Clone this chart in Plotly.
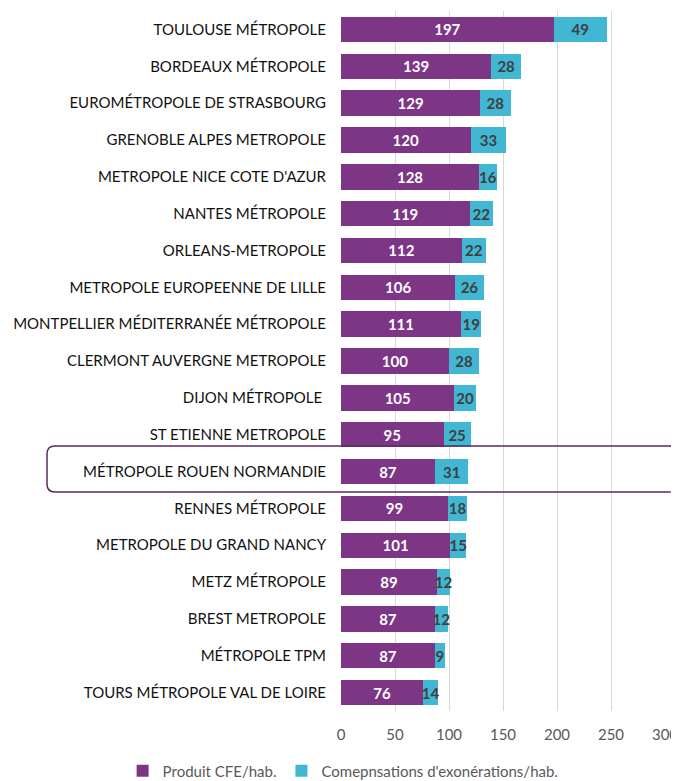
import plotly.graph_objects as go

categories = [
    "TOULOUSE MÉTROPOLE", "BORDEAUX MÉTROPOLE", "EUROMÉTROPOLE DE STRASBOURG",
    "GRENOBLE ALPES METROPOLE", "METROPOLE NICE COTE D'AZUR", "NANTES MÉTROPOLE",
    "ORLEANS-METROPOLE", "METROPOLE EUROPEENNE DE LILLE",
    "MONTPELLIER MÉDITERRANÉE MÉTROPOLE", "CLERMONT AUVERGNE METROPOLE",
    "DIJON MÉTROPOLE ", "ST ETIENNE METROPOLE", "MÉTROPOLE ROUEN NORMANDIE",
    "RENNES MÉTROPOLE", "METROPOLE DU GRAND NANCY", "METZ MÉTROPOLE",
    "BREST METROPOLE", "MÉTROPOLE TPM", "TOURS MÉTROPOLE VAL DE LOIRE",
]
produit_cfe = [197, 139, 129, 120, 128, 119, 112, 106, 111, 100, 105, 95, 87, 99, 101, 89, 87, 87, 76]
compensations = [49, 28, 28, 33, 16, 22, 22, 26, 19, 28, 20, 25, 31, 18, 15, 12, 12, 9, 14]
x_ticks = [0, 50, 100, 150, 200, 250, 300]

FONT = "Lato, Carlito, Calibri, sans-serif"
PURPLE = "#7D3586"
CYAN = "#41B7D4"

fig = go.Figure()
fig.add_trace(go.Bar(
    y=categories, x=produit_cfe, orientation="h", name="Produit CFE/hab.",
    marker=dict(color=PURPLE, line=dict(width=0)),
    text=[str(v) for v in produit_cfe], textposition="inside",
    insidetextanchor="middle", textangle=0, constraintext="none",
    textfont=dict(family=FONT, size=15, color="white", weight="bold"),
))
fig.add_trace(go.Bar(
    y=categories, x=compensations, orientation="h", name="Comepnsations d'exonérations/hab.",
    marker=dict(color=CYAN, line=dict(width=0)),
    text=[str(v) for v in compensations], textposition="inside",
    insidetextanchor="middle", textangle=0, constraintext="none",
    textfont=dict(family=FONT, size=15, color="#404040", weight="bold"),
))

# rounded highlight box (paper coords of the plot area)
x0, x1 = -0.9074, 1.037
y0, y1 = 0.3129, 0.3786
rx, ry = 0.0247, 0.0114
box_path = (
    f"M {x0},{y0+ry} L {x0},{y1-ry} Q {x0},{y1} {x0+rx},{y1} "
    f"L {x1-rx},{y1} Q {x1},{y1} {x1},{y1-ry} L {x1},{y0+ry} "
    f"Q {x1},{y0} {x1-rx},{y0} L {x0+rx},{y0} Q {x0},{y0} {x0},{y0+ry} Z"
)

# page body has an 8px margin, so the figure is sized to fill the rest of the window
fig.update_layout(
    barmode="stack", bargap=0.31,
    width=671, height=773,
    margin=dict(l=333, r=14, t=3, b=70, autoexpand=False),
    paper_bgcolor="white", plot_bgcolor="white",
    font=dict(family=FONT, size=15, color="#595959"),
    showlegend=True,
    legend=dict(orientation="h", x=-0.674, xanchor="left", y=-0.0857, yanchor="middle",
                font=dict(family=FONT, size=15, color="#595959"),
                itemwidth=30, traceorder="normal"),
    xaxis=dict(range=[0, 300], tickvals=x_ticks, showgrid=True, gridcolor="#D9D9D9",
               gridwidth=1, zeroline=False, showline=False, automargin=False,
               tickfont=dict(family=FONT, size=15, color="#595959"), ticklabelstandoff=13),
    yaxis=dict(autorange="reversed", showgrid=False, showline=False, zeroline=False,
               automargin=False,
               tickfont=dict(family=FONT, size=15, color="#111111"), ticklabelstandoff=14),
    shapes=[dict(
        type="path", xref="paper", yref="paper", path=box_path,
        line=dict(color="#5C2A62", width=1.5), fillcolor="rgba(0,0,0,0)",
    )],
)

fig.write_html("out.html")
